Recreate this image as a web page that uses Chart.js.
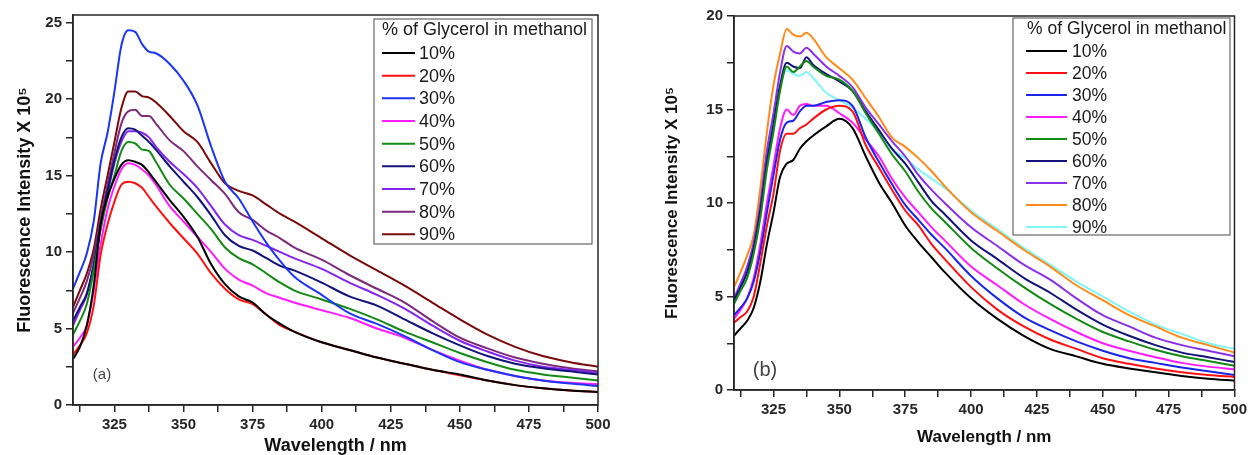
<!DOCTYPE html>
<html lang="en">
<head>
  <meta charset="UTF-8" />
  <title>Fluorescence vs Glycerol</title>
  <script src="https://cdn.jsdelivr.net/npm/chart.js"></script>
  <style>
    body {
      margin: 0;
      background: #fff;
      font-family: 'Liberation Sans', Arial, sans-serif;
    }
    .wrap {
      position: relative;
      width: 1251px;
      height: 455px;
    }
    .panel {
      position: absolute;
      top: 0;
      height: 455px;
    }
    #panelA { left: 0; width: 625px; }
    #panelB { left: 625px; width: 626px; }
  </style>
</head>
<body>
  <div class="wrap">
    <div class="panel" id="panelA"><canvas id="chartA"></canvas></div>
    <div class="panel" id="panelB"><canvas id="chartB"></canvas></div>
  </div>

  <script>
    // wavelength grid (nm)
    const wavelength = [310, 312.5, 315, 317.5, 320, 322.5, 325, 327.5, 330, 332.5, 335, 337.5, 340, 345, 350, 355, 360, 365, 370, 375, 380, 385, 390, 400, 410, 420, 430, 440, 450, 460, 470, 480, 490, 500];
    const percentLabels = ['10%', '20%', '30%', '40%', '50%', '60%', '70%', '80%', '90%'];
    const legendTitle = '% of Glycerol in methanol';

    // panel (a) intensities, x 10^5
    const a10 = [3.0, 3.8, 5.2, 7.8, 11.8, 13.6, 14.8, 15.7, 16.0, 15.9, 15.7, 15.2, 14.6, 13.4, 12.3, 11.0, 9.2, 7.9, 7.1, 6.7, 5.9, 5.3, 4.8, 4.1, 3.6, 3.1, 2.7, 2.3, 2.0, 1.6, 1.3, 1.1, 0.95, 0.85];
    const a20 = [3.3, 3.9, 4.7, 6.5, 9.8, 11.8, 13.3, 14.4, 14.6, 14.5, 14.2, 13.6, 13.0, 11.9, 10.9, 9.9, 8.6, 7.6, 6.9, 6.6, 5.9, 5.2, 4.8, 4.1, 3.6, 3.1, 2.7, 2.3, 1.95, 1.6, 1.3, 1.1, 0.95, 0.85];
    const a30 = [7.6, 8.7, 9.9, 12.0, 15.8, 17.8, 20.5, 23.5, 24.5, 24.4, 23.6, 23.1, 23.0, 22.3, 21.2, 19.6, 16.9, 14.6, 13.5, 12.0, 10.6, 9.4, 8.4, 7.2, 6.0, 5.3, 4.5, 3.6, 2.8, 2.3, 1.9, 1.6, 1.4, 1.25];
    const a40 = [3.8, 4.4, 5.2, 7.5, 10.5, 12.8, 14.3, 15.4, 15.8, 15.7, 15.4, 15.0, 14.4, 13.0, 12.0, 11.0, 10.0, 8.9, 8.2, 7.8, 7.3, 7.0, 6.7, 6.2, 5.7, 5.0, 4.4, 3.6, 2.9, 2.3, 1.9, 1.6, 1.45, 1.35];
    const a50 = [4.6, 5.5, 6.6, 8.8, 11.5, 13.5, 15.0, 16.6, 17.2, 17.1, 16.7, 16.6, 15.9, 14.4, 13.5, 12.5, 11.5, 10.3, 9.6, 9.2, 8.6, 8.0, 7.5, 6.9, 6.3, 5.6, 4.8, 4.1, 3.4, 2.8, 2.3, 2.0, 1.8, 1.6];
    const a60 = [5.5, 6.4, 7.3, 9.2, 11.8, 14.0, 16.0, 17.5, 18.1, 18.0, 17.6, 17.2, 16.7, 15.6, 14.6, 13.6, 12.4, 11.1, 10.4, 10.1, 9.6, 9.1, 8.8, 8.0, 7.1, 6.5, 5.6, 4.7, 3.9, 3.2, 2.7, 2.4, 2.2, 2.0];
    const a70 = [5.2, 6.2, 7.2, 9.1, 11.5, 13.8, 15.8, 17.2, 17.9, 17.9, 17.8, 17.5, 16.9, 15.9, 15.1, 14.2, 13.0, 11.8, 11.1, 10.8, 10.4, 10.0, 9.6, 8.9, 8.0, 7.2, 6.3, 5.2, 4.2, 3.5, 2.9, 2.5, 2.3, 2.1];
    const a80 = [6.0, 7.0, 8.1, 9.8, 12.2, 14.4, 16.5, 18.4, 19.2, 19.3, 18.9, 18.9, 18.4, 17.3, 16.6, 15.6, 14.7, 13.8, 12.6, 12.1, 11.4, 10.9, 10.3, 9.5, 8.5, 7.6, 6.7, 5.5, 4.4, 3.7, 3.1, 2.7, 2.4, 2.2];
    const a90 = [6.4, 7.5, 8.6, 10.2, 12.8, 15.0, 17.2, 19.4, 20.5, 20.5, 20.2, 20.1, 19.8, 18.9, 17.9, 17.2, 15.8, 14.5, 14.0, 13.7, 13.1, 12.5, 12.0, 10.9, 9.8, 8.8, 7.8, 6.7, 5.6, 4.6, 3.8, 3.2, 2.8, 2.5];

    // panel (b) intensities, x 10^5
    const b10 = [2.9, 3.3, 3.7, 4.4, 5.8, 7.8, 9.5, 11.4, 12.1, 12.3, 12.9, 13.3, 13.6, 14.1, 14.5, 14.0, 12.5, 11.1, 10.0, 8.8, 7.9, 7.1, 6.3, 4.9, 3.8, 2.9, 2.2, 1.8, 1.4, 1.15, 0.95, 0.75, 0.6, 0.5];
    const b20 = [3.6, 3.9, 4.2, 5.0, 6.8, 8.8, 10.5, 12.8, 13.7, 13.7, 14.0, 14.2, 14.5, 15.0, 15.2, 14.9, 13.1, 11.9, 10.7, 9.6, 8.8, 7.8, 7.0, 5.5, 4.3, 3.4, 2.7, 2.2, 1.7, 1.4, 1.15, 0.95, 0.8, 0.7];
    const b30 = [4.0, 4.4, 4.9, 5.8, 7.4, 9.5, 11.5, 13.4, 14.3, 14.4, 14.9, 15.2, 15.2, 15.4, 15.5, 15.2, 13.5, 12.2, 11.0, 9.9, 9.1, 8.3, 7.6, 6.1, 4.9, 3.9, 3.2, 2.6, 2.1, 1.7, 1.45, 1.2, 1.0, 0.8];
    const b40 = [3.8, 4.3, 4.9, 6.0, 7.8, 10.0, 12.0, 14.0, 15.0, 14.7, 15.2, 15.3, 15.2, 15.2, 14.8, 14.3, 13.4, 12.5, 11.3, 10.3, 9.5, 8.7, 8.0, 6.6, 5.6, 4.6, 3.8, 3.1, 2.5, 2.1, 1.75, 1.45, 1.25, 1.1];
    const b50 = [4.6, 5.3, 6.0, 7.3, 9.2, 11.8, 13.8, 16.0, 17.3, 17.0, 17.3, 17.6, 17.3, 16.8, 16.6, 16.0, 14.8, 13.7, 12.6, 11.7, 10.6, 9.7, 9.0, 7.6, 6.5, 5.5, 4.6, 3.8, 3.1, 2.6, 2.15, 1.8, 1.55, 1.3];
    const b60 = [4.8, 5.5, 6.3, 7.6, 9.6, 12.2, 14.2, 16.3, 17.5, 17.3, 17.2, 17.8, 17.4, 16.9, 16.5, 16.0, 14.9, 13.9, 12.9, 12.1, 11.1, 10.1, 9.4, 8.0, 7.0, 6.0, 5.2, 4.3, 3.5, 2.9, 2.4, 2.0, 1.75, 1.5];
    const b70 = [4.9, 5.7, 6.6, 7.9, 10.0, 12.8, 14.8, 17.0, 18.4, 18.1, 18.0, 18.3, 18.0, 17.3, 16.8, 16.2, 15.1, 14.2, 13.3, 12.5, 11.5, 10.7, 10.0, 8.7, 7.7, 6.7, 5.9, 4.9, 4.0, 3.4, 2.8, 2.4, 2.1, 1.8];
    const b80 = [5.5, 6.3, 7.2, 8.3, 10.8, 13.8, 16.3, 18.0, 19.3, 19.0, 18.9, 19.1, 18.8, 17.8, 17.2, 16.6, 15.6, 14.6, 13.5, 13.0, 12.4, 11.7, 10.9, 9.5, 8.5, 7.5, 6.6, 5.6, 4.8, 4.0, 3.4, 2.8, 2.4, 2.0];
    const b90 = [4.7, 5.5, 6.3, 7.6, 9.8, 12.7, 14.3, 16.2, 17.1, 16.9, 16.8, 17.0, 16.7, 15.9, 15.5, 15.1, 14.5, 13.8, 12.9, 12.4, 11.8, 11.3, 10.8, 9.6, 8.6, 7.6, 6.7, 5.8, 5.0, 4.2, 3.5, 3.0, 2.5, 2.2];

    const coloursA = ['#000000', '#ff1010', '#1a35f5', '#ff1aff', '#138a13', '#12127a', '#8424f0', '#7d2a7d', '#7a0a0a'];
    const coloursB = ['#000000', '#ff1010', '#1a25e8', '#ff1aff', '#138a13', '#12127a', '#8a30e8', '#ff8a1a', '#80f5f5'];

    const FONT = "'Liberation Sans', Arial, sans-serif";
    const INK = '#262626';

    function makeDatasets(seriesList, colours) {
      return seriesList.map((vals, k) => ({
        label: percentLabels[k],
        data: wavelength.map((w, i) => ({ x: w, y: vals[i] })),
        borderColor: colours[k],
        backgroundColor: colours[k],
        borderWidth: 2,
        pointRadius: 0,
        cubicInterpolationMode: 'monotone',
        fill: false
      }));
    }

    // frame, boxed legend and the panel letter
    const decorPlugin = {
      id: 'decor',
      afterDraw(chart, args, o) {
        const ctx = chart.ctx;
        const a = chart.chartArea;
        ctx.save();
        ctx.strokeStyle = INK;
        ctx.lineWidth = 1.5;
        ctx.strokeRect(a.left, a.top, a.right - a.left, a.bottom - a.top);

        // legend box
        const L = o.legend;
        ctx.strokeStyle = '#666';
        ctx.lineWidth = 1.2;
        ctx.strokeRect(L.x, L.y, L.w, L.h);
        ctx.fillStyle = '#1a1a1a';
        ctx.font = L.fontSize + 'px ' + FONT;
        ctx.textBaseline = 'middle';
        ctx.textAlign = 'left';
        ctx.fillText(legendTitle, L.titleX, L.titleY);
        chart.data.datasets.forEach((ds, i) => {
          const y = L.rowY + i * L.rowGap;
          ctx.strokeStyle = ds.borderColor;
          ctx.lineWidth = 2;
          ctx.beginPath();
          ctx.moveTo(L.lineX1, y);
          ctx.lineTo(L.lineX2, y);
          ctx.stroke();
          ctx.fillStyle = '#1a1a1a';
          ctx.fillText(ds.label, L.textX, y + 1);
        });

        // panel letter
        ctx.fillStyle = '#444';
        ctx.font = o.tag.size + 'px ' + FONT;
        ctx.textAlign = 'center';
        ctx.fillText(o.tag.text, o.tag.x, o.tag.y);
        ctx.restore();
      }
    };

    function makeChart(id, datasets, opt) {
      return new Chart(document.getElementById(id).getContext('2d'), {
        type: 'line',
        data: { datasets: datasets },
        plugins: [decorPlugin],
        options: {
          responsive: true,
          maintainAspectRatio: false,
          animation: false,
          layout: { padding: opt.padding },
          plugins: {
            legend: { display: false },
            tooltip: { enabled: false },
            decor: { legend: opt.legend, tag: opt.tag }
          },
          scales: {
            x: {
              type: 'linear',
              min: 310,
              max: 500,
              afterFit(scale) { scale.height = opt.xAxisH; },
              ticks: {
                stepSize: 12.5,
                includeBounds: false,
                autoSkip: false,
                maxRotation: 0,
                padding: 4,
                color: INK,
                font: { family: FONT, size: 15, weight: 'bold' },
                callback: v => (v % 25 === 0 ? String(v) : '')
              },
              grid: { drawOnChartArea: false, tickLength: 7, color: INK, lineWidth: 1.5 },
              border: { color: INK, width: 1.5 },
              title: {
                display: true,
                text: 'Wavelength / nm',
                color: '#111',
                font: { family: FONT, size: opt.titleSize, weight: 'bold', lineHeight: 1 },
                padding: { top: 0, bottom: opt.xTitlePad }
              }
            },
            y: {
              min: 0,
              max: opt.yMax,
              afterFit(scale) { scale.width = opt.yAxisW; },
              ticks: {
                stepSize: 2.5,
                includeBounds: false,
                autoSkip: false,
                padding: 4,
                color: INK,
                font: { family: FONT, size: 15, weight: 'bold' },
                callback: v => (v % 5 === 0 ? String(v) : '')
              },
              grid: { drawOnChartArea: false, tickLength: 7, color: INK, lineWidth: 1.5 },
              border: { color: INK, width: 1.5 },
              title: {
                display: true,
                text: 'Fluorescence Intensity X 10\u2075',
                color: '#111',
                font: { family: FONT, size: opt.titleSize, weight: 'bold', lineHeight: 1 },
                padding: { top: opt.yTitlePad, bottom: 0 }
              }
            }
          }
        }
      });
    }

    makeChart('chartA', makeDatasets([a10, a20, a30, a40, a50, a60, a70, a80, a90], coloursA), {
      padding: { top: 15, right: 27, left: 0, bottom: 0 },
      yAxisW: 73,
      xAxisH: 50,
      yMax: 25.5,
      titleSize: 18,
      xTitlePad: 0,
      yTitlePad: 16,
      legend: { x: 374, y: 19, w: 218, h: 225, fontSize: 18, titleX: 382, titleY: 30,
                lineX1: 382, lineX2: 415, textX: 419, rowY: 53, rowGap: 22.67 },
      tag: { text: '(a)', x: 102, y: 375, size: 15 }
    });

    makeChart('chartB', makeDatasets([b10, b20, b30, b40, b50, b60, b70, b80, b90], coloursB), {
      padding: { top: 16, right: 15, left: 0, bottom: 0 },
      yAxisW: 109,
      xAxisH: 65,
      yMax: 20,
      titleSize: 17,
      xTitlePad: 9,
      yTitlePad: 39,
      legend: { x: 388, y: 18, w: 217, h: 217, fontSize: 17.5, titleX: 402, titleY: 29,
                lineX1: 401, lineX2: 442, textX: 447, rowY: 51, rowGap: 22 },
      tag: { text: '(b)', x: 140, y: 370, size: 20 }
    });
  </script>
</body>
</html>
